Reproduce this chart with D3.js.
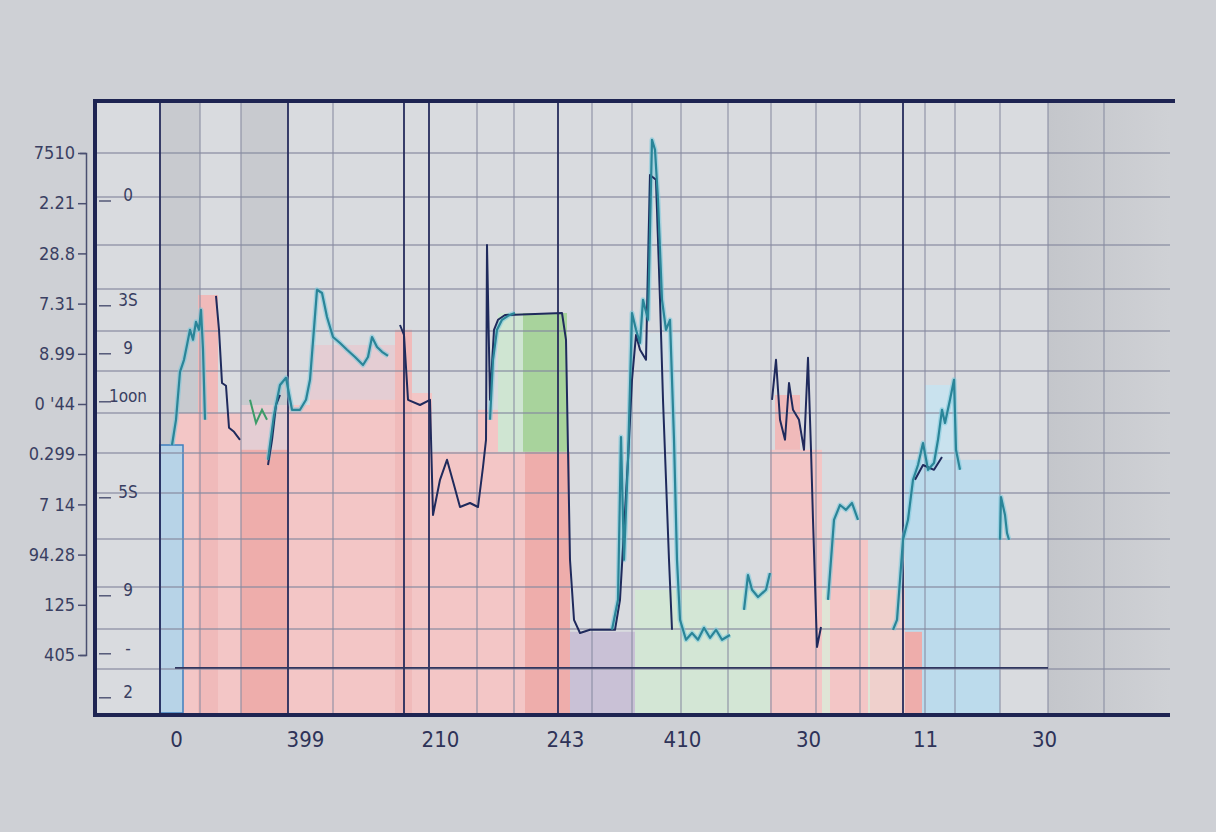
<!DOCTYPE html>
<html>
<head>
<meta charset="utf-8">
<script src="https://cdn.jsdelivr.net/npm/d3@7"></script>
<style>
  body { margin: 0; background: #cdcfd4; }
  svg { display: block; }
</style>
</head>
<body>
<script>
// tick labels
var yLabels = ["7510", "2.21", "28.8", "7.31", "8.99", "0 '44", "0.299", "7 14", "94.28", "125", "405"];
var innerLabels = ["0", "3S", "9", "1oon", "5S", "9", "-", "2"];
var innerValues = [129.5, 103.3, 91.3, 79.3, 55.3, 30.8, 16.3, 5.3];
var xLabels = ["0", "399", "210", "243", "410", "30", "11", "30"];
var xLabelValues = [16.2, 42, 69, 94, 117.4, 142.6, 166, 189.8];

// grid
var gridY = [140, 129, 117, 106, 95.5, 85.5, 75, 65, 55, 43.5, 31.5, 21, 11];
var gridX = [21, 29.2, 47.6, 76.4, 83.8, 99.4, 107.4, 117.2, 126.6, 135.2, 144.2, 153, 166, 172, 181, 190.6, 201.8];
var gridXDark = [13, 38.6, 61.8, 66.8, 92.6, 161.6];
var bands = [[13, 21], [29.2, 38.6]];
var refLine = [16, 190.6, 11.3];

// filled blocks: x0, x1, y0, y1, colour
var blocks = [
  [16, 21, 0, 75, "pink"],
  [20.6, 24.6, 0, 104.5, "pinkLight"],
  [24.6, 29.2, 0, 75, "pink"],
  [29.2, 38.6, 0, 77, "lilacPink"],
  [29.2, 38.6, 0, 65.8, "pinkDark"],
  [38.6, 43, 0, 77, "pink"],
  [43, 61, 0, 92, "lilacPink"],
  [43, 61, 0, 78.3, "pink"],
  [60, 63.4, 0, 95.8, "pinkLight"],
  [63.4, 67.4, 0, 80, "pink"],
  [67.4, 77, 0, 65.3, "pink"],
  [76.6, 81, 0, 75.8, "pink"],
  [81, 86, 0, 65.3, "pink"],
  [86, 95, 0, 65.3, "pinkDark"],
  [80.6, 85.6, 65.3, 100, "greenLight"],
  [85.6, 94.4, 65.3, 100, "greenDark"],
  [95, 108, 0, 20.3, "lilac"],
  [108, 135, 0, 30.8, "greenPale"],
  [109, 117.4, 30.8, 95, "cyanPale"],
  [135, 145.4, 0, 65.8, "pink"],
  [136, 141, 65.8, 79.5, "pinkLight"],
  [145.4, 162, 0, 30.8, "cream"],
  [147, 154.6, 0, 43.3, "pink"],
  [155, 162, 0, 30.8, "pinkPale"],
  [162, 181, 0, 63.3, "blue"],
  [166, 172, 63.3, 82, "blueLight"],
  [162, 165.4, 0, 20.3, "pinkDark"]
];
var blueBar = [13, 17.6, 0, 67];

// line series, split into pieces
var tealSegments = [
  [[15.4, 67], [16.2, 73.3], [17, 85.3], [17.8, 88.3], [18.4, 92], [19, 95.8], [19.6, 93.3], [20.2, 97.8], [20.8, 95.8], [21.2, 100.8], [21.6, 90.8], [22, 73.3]],
  [[34.6, 63.3], [35.8, 74.5], [37, 82], [38.2, 83.8], [39.4, 75.8], [41, 75.8], [42.2, 78.3], [43, 83.3], [44.4, 105.8], [45.4, 105], [46.4, 99], [47.6, 94], [49, 92.5], [50.4, 90.8], [52, 89], [53.6, 87], [54.6, 89], [55.4, 94], [56.4, 91.5], [57.4, 90.3], [58.6, 89.3]],
  [[79, 73.3], [79.6, 88.3], [80.4, 95.8], [81.4, 98.3], [82.6, 99.3], [84, 100]],
  [[103.4, 20.8], [104.6, 28.3], [105.2, 69], [105.8, 38.3], [106.6, 63.3], [107.4, 100], [108.2, 95.8], [109, 92.5], [109.6, 103.3], [110.6, 98.3], [111.4, 143.3], [112, 140.8], [112.6, 128.3], [113.4, 103.3], [114.2, 95.8], [115, 98.3], [115.8, 68.3], [116.4, 38.3], [117, 23.3], [118.2, 18.3], [119.4, 20], [120.6, 18.3], [121.8, 21.3], [123, 18.8], [124.2, 20.8], [125.4, 18.3], [127, 19.5]],
  [[129.8, 25.8], [130.6, 34.5], [131.4, 30.8], [132.6, 29], [134.2, 30.8], [135, 35]],
  [[146.6, 28.3], [147.8, 48.3], [149, 52], [150.2, 50.8], [151.4, 52.5], [152.6, 48.3]],
  [[159.6, 20.8], [160.4, 23.3], [161.6, 43.3], [162.6, 48.3], [163.6, 58.3], [164.6, 62], [165.6, 67.5], [166.6, 60.8], [167.8, 62.5], [168.6, 68.3], [169.4, 75.8], [170, 72.5], [171, 78.3], [171.8, 83.3], [172.2, 65.8], [173, 60.8]],
  [[181, 43.3], [181.2, 54], [182, 49.5], [182.4, 45], [182.8, 43.3]]
];
var navySegments = [
  [[24.2, 104.3], [24.8, 95.8], [25.4, 82.5], [26.2, 81.8], [26.8, 71.3], [27.8, 70.3], [29, 68.3]],
  [[34.6, 62], [35.4, 68.3], [36.2, 77], [37, 79.5]],
  [[61, 97], [61.8, 94.5], [62.6, 78.3], [65, 77], [67, 78.3], [67.6, 49.5], [69, 58.3], [70.4, 63.3], [71.8, 57], [73, 51.5], [75, 52.5], [76.6, 51.5], [77.6, 61.5], [78.2, 68.3], [78.4, 117], [79, 78.3], [79.8, 95.8], [80.6, 98.3], [82, 99.5], [93.4, 100], [94.2, 93.3], [95, 38.3], [95.8, 23.3], [97, 20], [99, 20.8], [104, 20.8], [105, 28.3], [106.6, 63.3], [107.4, 83.3], [108.2, 94.5], [109, 90.8], [110.2, 88.3], [111, 134.5], [112.2, 133.3], [113, 103.3], [113.6, 78.3], [114.2, 58.3], [114.8, 38.3], [115.4, 20.8]],
  [[135.4, 78.3], [136.2, 88.3], [137, 73.3], [138, 68.3], [138.8, 82.5], [139.6, 75.8], [140.8, 73.3], [141.8, 65.8], [142.6, 88.8], [143.2, 65.8], [143.6, 48.3], [144, 32.5], [144.4, 16.5], [145.2, 21.5]],
  [[164, 58.3], [165.6, 62], [167.8, 60.8], [169.4, 64]]
];
var greenSegment = [[31, 78.3], [32.2, 72.5], [33.4, 75.8], [34.4, 73.3]];

var colors = {
  pink: "#f3c6c6", pinkLight: "#f0baba", pinkDark: "#eeadab", pinkPale: "#efd0cc",
  lilacPink: "#e4cdd3", greenLight: "#cfe5d2", greenDark: "#a8d39c", lilac: "#c9c1d6",
  greenPale: "#d3e6d5", cyanPale: "#d5e0e6", cream: "#dfe5d6", blue: "#bcdbec", blueLight: "#c9e2ee"
};

var width = 1216, height = 832;
var font = "'DejaVu Sans Condensed', 'DejaVu Sans', sans-serif";

var x = d3.scaleLinear().domain([0, 215]).range([95, 1170]);
var y = d3.scaleLinear().domain([0, 153]).range([713, 101]);
var yLab = d3.scalePoint().domain(yLabels).range([y(140), y(14.5)]);

var svg = d3.select("body").append("svg")
  .attr("width", width)
  .attr("height", height);

var defs = svg.append("defs");
var grad = defs.append("linearGradient").attr("id", "rightBand");
grad.append("stop").attr("offset", "0%").attr("stop-color", "#c4c6cb");
grad.append("stop").attr("offset", "100%").attr("stop-color", "#cfd1d5");

// page + plot background
svg.append("rect").attr("width", width).attr("height", height).attr("fill", "#ced0d5");
svg.append("rect")
  .attr("x", x(0)).attr("y", y(153))
  .attr("width", x(215) - x(0)).attr("height", y(0) - y(153))
  .attr("fill", "#d9dbdf");

svg.selectAll(".band").data(bands).enter().append("rect")
  .attr("x", function(d) { return x(d[0]); })
  .attr("y", y(153))
  .attr("width", function(d) { return x(d[1]) - x(d[0]); })
  .attr("height", y(0) - y(153))
  .attr("fill", "#c8cacf");
svg.append("rect")
  .attr("x", x(190.6)).attr("y", y(153))
  .attr("width", x(215) - x(190.6)).attr("height", y(0) - y(153))
  .attr("fill", "url(#rightBand)");

// filled blocks
svg.selectAll(".block").data(blocks).enter().append("rect")
  .attr("x", function(d) { return x(d[0]); })
  .attr("y", function(d) { return y(d[3]); })
  .attr("width", function(d) { return x(d[1]) - x(d[0]); })
  .attr("height", function(d) { return y(d[2]) - y(d[3]); })
  .attr("fill", function(d) { return colors[d[4]]; });

svg.append("rect")
  .attr("x", x(blueBar[0])).attr("y", y(blueBar[3]))
  .attr("width", x(blueBar[1]) - x(blueBar[0]))
  .attr("height", y(blueBar[2]) - y(blueBar[3]))
  .attr("fill", "#b7d3e7")
  .attr("stroke", "#3f7fbf")
  .attr("stroke-width", 1.5);

// grid
svg.selectAll(".gy").data(gridY).enter().append("line")
  .attr("x1", x(0)).attr("x2", x(215))
  .attr("y1", function(d) { return y(d); }).attr("y2", function(d) { return y(d); })
  .attr("stroke", "#878ba1").attr("stroke-width", 1.3).attr("opacity", 0.8);
svg.selectAll(".gx").data(gridX).enter().append("line")
  .attr("x1", function(d) { return x(d); }).attr("x2", function(d) { return x(d); })
  .attr("y1", y(0)).attr("y2", y(153))
  .attr("stroke", "#878ba1").attr("stroke-width", 1.3).attr("opacity", 0.8);
svg.selectAll(".gxd").data(gridXDark).enter().append("line")
  .attr("x1", function(d) { return x(d); }).attr("x2", function(d) { return x(d); })
  .attr("y1", y(0)).attr("y2", y(153))
  .attr("stroke", "#262c5c").attr("stroke-width", 1.8);

svg.append("line")
  .attr("x1", x(refLine[0])).attr("x2", x(refLine[1]))
  .attr("y1", y(refLine[2])).attr("y2", y(refLine[2]))
  .attr("stroke", "#30365f").attr("stroke-width", 1.8);

// lines
var line = d3.line()
  .x(function(d) { return x(d[0]); })
  .y(function(d) { return y(d[1]); });

svg.selectAll(".glow").data(tealSegments).enter().append("path")
  .attr("d", line).attr("fill", "none")
  .attr("stroke", "#79c8dc").attr("stroke-width", 5).attr("opacity", 0.55)
  .attr("stroke-linejoin", "round");
svg.selectAll(".navy").data(navySegments).enter().append("path")
  .attr("d", line).attr("fill", "none")
  .attr("stroke", "#1f2a5c").attr("stroke-width", 2)
  .attr("stroke-linejoin", "round");
svg.selectAll(".teal").data(tealSegments).enter().append("path")
  .attr("d", line).attr("fill", "none")
  .attr("stroke", "#2a8598").attr("stroke-width", 2.2)
  .attr("stroke-linejoin", "round");
svg.append("path").datum(greenSegment)
  .attr("d", line).attr("fill", "none")
  .attr("stroke", "#3c9c68").attr("stroke-width", 2);

// frame
svg.append("line")
  .attr("x1", x(-0.4)).attr("x2", x(216))
  .attr("y1", y(153)).attr("y2", y(153))
  .attr("stroke", "#1e2452").attr("stroke-width", 4);
svg.append("line")
  .attr("x1", x(0)).attr("x2", x(0))
  .attr("y1", y(153)).attr("y2", y(-0.8))
  .attr("stroke", "#1e2452").attr("stroke-width", 4);

// bottom axis
var xAxis = svg.append("g")
  .attr("transform", "translate(0," + (y(0) + 2) + ")")
  .call(d3.axisBottom(x)
    .tickValues(xLabelValues)
    .tickFormat(function(d, i) { return xLabels[i]; })
    .tickSize(0)
    .tickPadding(16));
xAxis.select(".domain")
  .attr("d", "M" + x(-0.4) + ",0H" + x(215))
  .attr("stroke", "#1e2452").attr("stroke-width", 4);
xAxis.selectAll("text")
  .attr("font-family", font).attr("font-size", 22)
  .attr("fill", "#2e3358");

// left axis
var yAxis = svg.append("g")
  .attr("transform", "translate(" + x(-1.8) + ",0)")
  .call(d3.axisLeft(yLab).tickSize(8).tickSizeOuter(6).tickPadding(3));
yAxis.select(".domain").attr("stroke", "#4a4f70").attr("stroke-width", 1.5);
yAxis.selectAll(".tick line").attr("stroke", "#4a4f70").attr("stroke-width", 1.5);
yAxis.selectAll("text")
  .attr("font-family", font).attr("font-size", 18)
  .attr("fill", "#3a3f62");

// inner labels
svg.selectAll(".inTick").data(innerValues).enter().append("line")
  .attr("x1", x(0.8)).attr("x2", x(3.2))
  .attr("y1", function(d) { return y(d) + 6; }).attr("y2", function(d) { return y(d) + 6; })
  .attr("stroke", "#4a4f70").attr("stroke-width", 1.4);
svg.selectAll(".inLab").data(innerValues).enter().append("text")
  .attr("x", x(6.6))
  .attr("y", function(d) { return y(d); })
  .attr("dy", "0.35em")
  .attr("text-anchor", "middle")
  .attr("font-family", font).attr("font-size", 17)
  .attr("fill", "#3a3f62")
  .text(function(d, i) { return innerLabels[i]; });
</script>
</body>
</html>
